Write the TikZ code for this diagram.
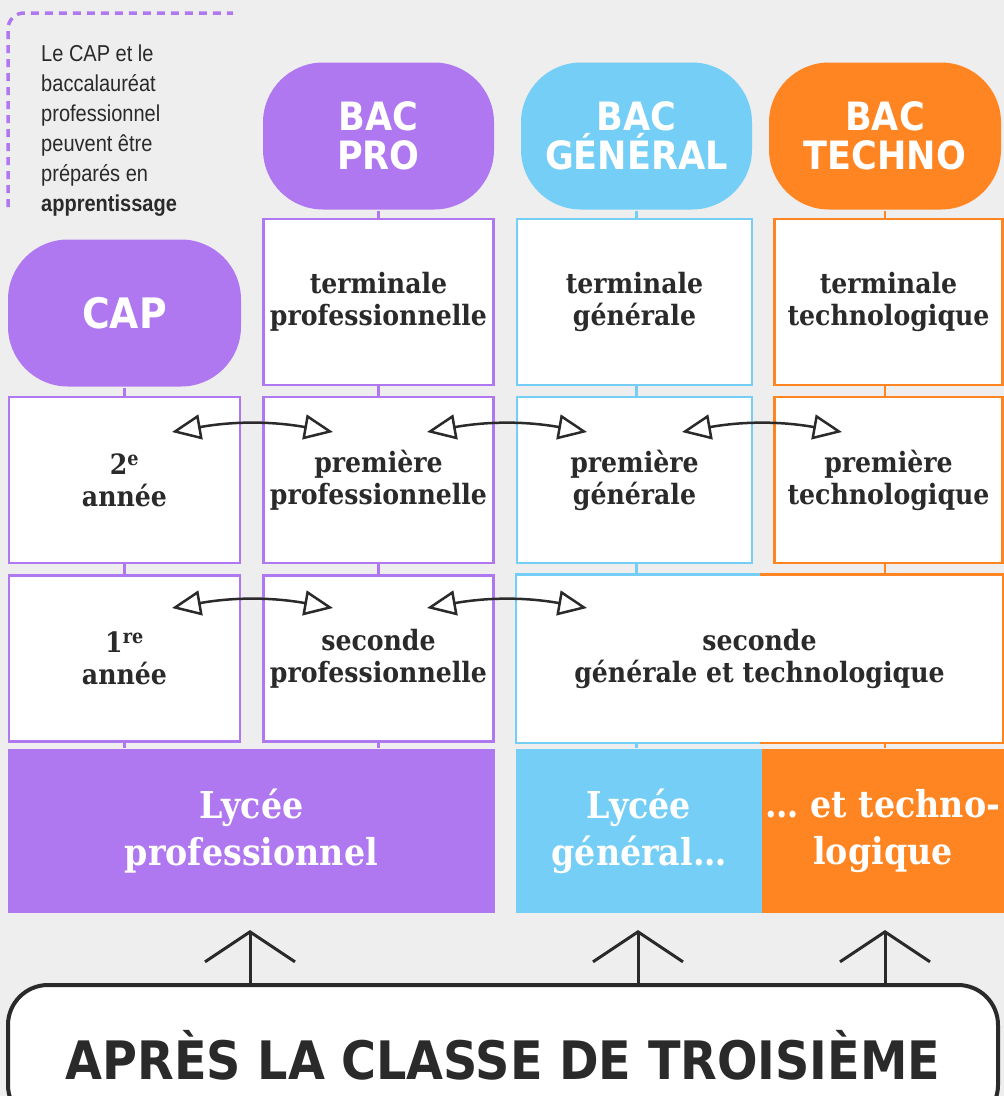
\documentclass[tikz,border=0pt]{standalone}
\usepackage{fontspec}
\usetikzlibrary{arrows.meta}
\newfontfamily\slab{DejaVu Serif Condensed}
\newfontfamily\headsans{DejaVu Sans Condensed}
\newfontfamily\notesans[FakeStretch=0.87]{Liberation Sans}
\definecolor{pro}{HTML}{AF78F1}
\definecolor{gen}{HTML}{74CEF6}
\definecolor{tec}{HTML}{FF8522}
\definecolor{ink}{HTML}{2A2A2A}
\definecolor{fond}{HTML}{EEEEEE}

\begin{document}
\begin{tikzpicture}[x=1pt,y=-1pt,line width=2.5pt,
  bac/.style={fill=#1,rounded corners=60pt,minimum height=147pt,text=white,align=center,inner sep=0pt,font=\headsans\bfseries\fontsize{39}{39}\selectfont},
  classe/.style={draw=#1,fill=white,minimum height=166pt,text=ink,align=center,inner sep=0pt,font=\slab\bfseries\fontsize{28}{32}\selectfont},
  lycee/.style={fill=#1,minimum height=164pt,text=white,align=center,inner sep=0pt,font=\slab\bfseries\fontsize{37}{47}\selectfont},
  stub/.style={draw=#1,line width=2.7pt},
  passerelle/.style={ink,line width=2.5pt,{Triangle[open,length=29pt,width=25pt]}-{Triangle[open,length=29pt,width=25pt]}},
  montee/.style={ink,line width=3pt,-{Straight Barb[length=30pt,width=90pt]}}
]
\useasboundingbox (0,0) rectangle (1004,1096);
\fill[fond] (0,0) rectangle (1004,1096);
\clip (0,0) rectangle (1004,1096);

% note apprentissage
\draw[pro,line width=3.5pt,dash pattern=on 8pt off 6pt,rounded corners=16pt] (8,207) |- (233,13);
\node[anchor=north west,align=left,inner sep=0pt,text=ink,font=\notesans\fontsize{23}{30}\selectfont] (note) at (40,44)
  {Le CAP et le\\baccalauréat\\professionnel\\peuvent être\\préparés en\\\textbf{apprentissage}};

% diplomes
\node[bac=pro,minimum width=233pt,font=\headsans\bfseries\fontsize{42}{42}\selectfont] (cap) at (124.5,313) {CAP};
\node[bac=pro,minimum width=231pt] (bacpro) at (378.5,136) {BAC\\PRO};
\node[bac=gen,minimum width=231pt] (bacgen) at (636.5,136) {BAC\\GÉNÉRAL};
\node[bac=tec,minimum width=232pt] (bactec) at (885,136) {BAC\\TECHNO};

% terminale
\node[classe=pro,minimum width=230pt] (termpro) at (378.5,302) {terminale\\professionnelle};
\node[classe=gen,minimum width=235pt] (termgen) at (634.5,302) {terminale\\générale};
\node[classe=tec,minimum width=228pt] (termtec) at (888.5,302) {terminale\\technologique};

% premiere
\node[classe=pro,minimum width=231pt] (an2) at (124.5,480) {2\textsuperscript{e}\\année};
\node[classe=pro,minimum width=230pt] (prempro) at (378.5,480) {première\\professionnelle};
\node[classe=gen,minimum width=235pt] (premgen) at (634.5,480) {première\\générale};
\node[classe=tec,minimum width=228pt] (premtec) at (888.5,480) {première\\technologique};

% seconde
\node[classe=pro,minimum width=231pt] (an1) at (124.5,658.5) {1\textsuperscript{re}\\année};
\node[classe=pro,minimum width=230pt] (secpro) at (378.5,658.5) {seconde\\professionnelle};
\node[classe=none,minimum width=485pt] (secgt) at (759.5,658.5) {seconde\\générale et technologique};
\draw[gen] (secgt.north) -| (secgt.south west) -- (secgt.south);
\draw[tec] (secgt.north) -| (secgt.south east) -- (secgt.south);

% lycees
\node[lycee=pro,minimum width=487pt] (lycpro) at (251.5,831) {Lycée\\professionnel};
\node[lycee=gen,minimum width=246pt] (lycgen) at (639,831) {Lycée\\général…};
\node[lycee=tec,minimum width=242pt] (lyctec) at (883,831) {… et techno-\\logique};

% liens entre niveaux
\draw[stub=pro] (cap.south) -- (an2.north);
\draw[stub=pro] (an2.south) -- (an1.north);
\draw[stub=pro] (an1.south) -- (an1.south |- lycpro.north);
\draw[stub=pro] (bacpro.south) -- (termpro.north);
\draw[stub=pro] (termpro.south) -- (prempro.north);
\draw[stub=pro] (prempro.south) -- (secpro.north);
\draw[stub=pro] (secpro.south) -- (secpro.south |- lycpro.north);
\draw[stub=gen] (bacgen.south) -- (bacgen.south |- termgen.north);
\draw[stub=gen] (termgen.south -| bacgen) -- (premgen.north -| bacgen);
\draw[stub=gen] (premgen.south -| bacgen) -- (secgt.north -| bacgen);
\draw[stub=gen] (secgt.south -| bacgen) -- (lycgen.north -| bacgen);
\draw[stub=tec] (bactec.south) -- (bactec.south |- termtec.north);
\draw[stub=tec] (termtec.south -| bactec) -- (premtec.north -| bactec);
\draw[stub=tec] (premtec.south -| bactec) -- (secgt.north -| bactec);
\draw[stub=tec] (secgt.south -| bactec) -- (lyctec.north -| bactec);

% passerelles
\coordinate (p1a) at (172,432); \coordinate (p1b) at (333,432);
\coordinate (p2a) at (427,432); \coordinate (p2b) at (587,432);
\coordinate (p3a) at (682,432); \coordinate (p3b) at (842,432);
\coordinate (p4a) at (172,608); \coordinate (p4b) at (333,608);
\coordinate (p5a) at (427,608); \coordinate (p5b) at (587,608);
\draw[passerelle] (p1a) to[bend left=10] (p1b);
\draw[passerelle] (p2a) to[bend left=10] (p2b);
\draw[passerelle] (p3a) to[bend left=10] (p3b);
\draw[passerelle] (p4a) to[bend left=10] (p4b);
\draw[passerelle] (p5a) to[bend left=10] (p5b);

% apres la troisieme
\node[draw=ink,line width=4pt,fill=white,rounded corners=40pt,minimum width=990pt,minimum height=140pt,inner sep=0pt,
  text=ink,font=\headsans\bfseries\fontsize{53}{53}\selectfont] (apres) at (503,1055) {APRÈS LA CLASSE DE TROISIÈME};
\coordinate (f1) at (250,930);
\coordinate (f2) at (638,930);
\coordinate (f3) at (885,930);
\draw[montee] (apres.north -| f1) -- (f1);
\draw[montee] (apres.north -| f2) -- (f2);
\draw[montee] (apres.north -| f3) -- (f3);
\end{tikzpicture}
\end{document}
